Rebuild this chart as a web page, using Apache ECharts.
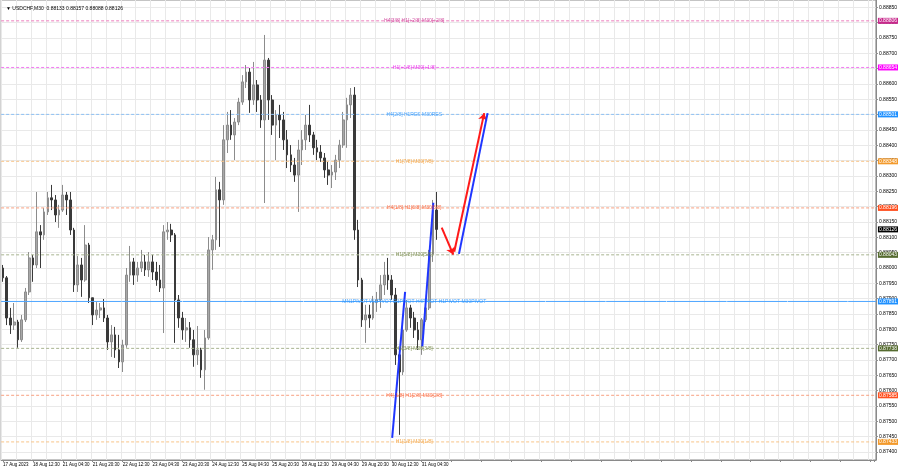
<!DOCTYPE html>
<html>
<head>
<meta charset="utf-8">
<script src="https://cdn.jsdelivr.net/npm/echarts@6/dist/echarts.min.js"></script>
<style>
html,body{margin:0;padding:0;background:#fff;}
#chart{width:900px;height:468px;}
</style>
</head>
<body>
<div id="chart"></div>
<script>
// ---------- DATA (USDCHF, M30, aggregated to 2-hour candles) ----------
const symbolTitle = "USDCHF,M30";
const lastBar = [0.88133, 0.88157, 0.88088, 0.88126];
const timeLabels = ["17 Aug 2023","18 Aug 12:30","21 Aug 04:30","21 Aug 20:30","22 Aug 12:30","23 Aug 04:30","23 Aug 20:30","24 Aug 12:30","25 Aug 04:30","25 Aug 20:30","28 Aug 12:30","29 Aug 04:30","29 Aug 20:30","30 Aug 12:30","31 Aug 04:30"];
const priceTicks = [0.87400,0.87450,0.87500,0.87550,0.87600,0.87650,0.87700,0.87750,0.87800,0.87850,0.87900,0.87950,0.88000,0.88050,0.88100,0.88150,0.88200,0.88250,0.88300,0.88350,0.88400,0.88450,0.88500,0.88550,0.88600,0.88650,0.88700,0.88750,0.88800,0.88850];

const openP = [0.88000,0.87968,0.87837,0.87814,0.87824,0.87766,0.87831,0.87922,0.88033,0.88010,
0.88118,0.88108,0.88183,0.88229,0.88222,0.88173,0.88189,0.88238,0.88222,0.88124,
0.87945,0.88010,0.87961,0.88075,0.87903,0.87847,0.87863,0.87870,0.87837,0.87759,
0.87782,0.87733,0.87694,0.87749,0.87977,0.88020,0.87977,0.88000,0.88020,0.87994,
0.88020,0.87987,0.87961,0.87935,0.88118,0.88124,0.88108,0.87896,0.87837,0.87798,
0.87805,0.87766,0.87717,0.87733,0.87668,0.87772,0.88059,0.88092,0.88255,0.88222,
0.88418,0.88466,0.88434,0.88476,0.88541,0.88607,0.88639,0.88548,0.88597,0.88548,
0.88483,0.88678,0.88548,0.88466,0.88499,0.88483,0.88418,0.88369,0.88336,0.88303,
0.88385,0.88418,0.88466,0.88434,0.88392,0.88378,0.88359,0.88320,0.88303,0.88313,
0.88352,0.88401,0.88483,0.88532,0.88564,0.88124,0.87961,0.87831,0.87847,0.87837,
0.87889,0.87896,0.87945,0.87977,0.87961,0.87912,0.87717,0.87661,0.87798,0.87870,
0.87837,0.87798,0.87766,0.87831,0.87870,0.88043,0.88189];
const highP = [0.88010,0.87974,0.87870,0.87886,0.87831,0.87847,0.87935,0.88052,0.88043,0.88248,
0.88140,0.88196,0.88248,0.88271,0.88238,0.88206,0.88271,0.88248,0.88248,0.88131,
0.88039,0.88033,0.88140,0.88082,0.87903,0.87889,0.87886,0.87899,0.87847,0.87814,
0.87808,0.87782,0.87766,0.88000,0.88072,0.88033,0.88020,0.88059,0.88043,0.88052,
0.88043,0.88020,0.88010,0.88140,0.88150,0.88144,0.88114,0.87912,0.87857,0.87837,
0.87824,0.87798,0.87811,0.87740,0.87798,0.88101,0.88108,0.88297,0.88281,0.88466,
0.88509,0.88515,0.88489,0.88555,0.88629,0.88662,0.88652,0.88672,0.88613,0.88564,
0.88760,0.88685,0.88564,0.88515,0.88532,0.88509,0.88450,0.88401,0.88359,0.88418,
0.88450,0.88499,0.88532,0.88444,0.88418,0.88401,0.88375,0.88346,0.88336,0.88369,
0.88418,0.88509,0.88555,0.88587,0.88590,0.88157,0.87968,0.87880,0.87880,0.87909,
0.87922,0.87977,0.88020,0.88033,0.87977,0.87935,0.87733,0.87814,0.87896,0.87880,
0.87857,0.87824,0.87837,0.87880,0.88059,0.88222,0.88248];
const lowP = [0.87955,0.87814,0.87785,0.87798,0.87740,0.87759,0.87824,0.87912,0.87955,0.88000,
0.88000,0.88092,0.88173,0.88189,0.88150,0.88131,0.88183,0.88173,0.88108,0.87922,
0.87922,0.87906,0.87955,0.87886,0.87814,0.87831,0.87837,0.87824,0.87733,0.87710,
0.87707,0.87674,0.87661,0.87740,0.87955,0.87945,0.87955,0.87987,0.87974,0.87971,
0.87961,0.87942,0.87922,0.87788,0.88092,0.88085,0.87756,0.87805,0.87766,0.87759,
0.87740,0.87678,0.87684,0.87642,0.87603,0.87766,0.87994,0.88059,0.88069,0.88206,
0.88375,0.88418,0.88352,0.88466,0.88532,0.88587,0.88506,0.88532,0.88509,0.88457,
0.88212,0.88483,0.88434,0.88352,0.88424,0.88385,0.88326,0.88313,0.88281,0.88183,
0.88336,0.88385,0.88411,0.88369,0.88352,0.88346,0.88294,0.88271,0.88261,0.88287,
0.88326,0.88392,0.88392,0.88489,0.88092,0.87938,0.87808,0.87756,0.87805,0.87831,
0.87857,0.87870,0.87912,0.87929,0.87896,0.87684,0.87456,0.87651,0.87792,0.87805,
0.87772,0.87733,0.87717,0.87824,0.87863,0.88020,0.88092];
const closeP = [0.87968,0.87837,0.87814,0.87824,0.87766,0.87831,0.87922,0.88033,0.88010,0.88118,
0.88108,0.88183,0.88229,0.88222,0.88173,0.88189,0.88238,0.88222,0.88124,0.87945,
0.88010,0.87961,0.88075,0.87903,0.87847,0.87863,0.87870,0.87837,0.87759,0.87782,
0.87733,0.87694,0.87749,0.87977,0.88020,0.87977,0.88000,0.88020,0.87994,0.88020,
0.87987,0.87961,0.87935,0.88118,0.88124,0.88108,0.87896,0.87837,0.87798,0.87805,
0.87766,0.87717,0.87733,0.87668,0.87772,0.88059,0.88092,0.88255,0.88222,0.88418,
0.88466,0.88434,0.88476,0.88541,0.88607,0.88639,0.88548,0.88597,0.88548,0.88483,
0.88678,0.88548,0.88466,0.88499,0.88483,0.88418,0.88369,0.88336,0.88303,0.88385,
0.88418,0.88466,0.88434,0.88392,0.88378,0.88359,0.88320,0.88303,0.88313,0.88352,
0.88401,0.88483,0.88532,0.88564,0.88124,0.87961,0.87831,0.87847,0.87837,0.87889,
0.87896,0.87945,0.87977,0.87961,0.87912,0.87717,0.87661,0.87798,0.87870,0.87837,
0.87798,0.87766,0.87831,0.87870,0.88043,0.88189,0.88126];

const levelPrices = [0.88806,0.88654,0.88501,0.88348,0.88196,0.88043,0.87891,0.87738,0.87585,0.87433];
const levelNames = ["H4[3/8] H1[+2/8] M30[+2/8]","H1[+1/8] M30[+1/8]","H4[2/8] H1RES M30RES","H1[7/8] M30[7/8]","H4[1/8] H1[6/8] M30[6/8]","H1[5/8] M30[5/8]","MN1PIVOT W1PIVOT D1PIVOT H4PIVOT H1PIVOT M30PIVOT","H1[3/8] M30[3/8]","H4[-1/8] H1[2/8] M30[2/8]","H1[1/8] M30[1/8]"];
const currentPrice = 0.88126;

// hand-drawn trend lines (x in 2-hour slots, y in price)
const blueLine1 = [[104.1,0.87446],[107.56,0.87922]];
const blueLine2 = [[112.17,0.87744],[115.11,0.88213]];
const blueLine3 = [[121.97,0.88046],[129.62,0.88505]];
const redArrow1 = [[117.35,0.88132],[120.45,0.88044]];
const redArrow2 = [[120.71,0.88053],[128.72,0.88505]];

// ---------- STYLE ----------
const FONT = "'Liberation Sans', Arial, sans-serif";
const TOTAL_SLOTS = 234;
const SLOTS_PER_LABEL = 8;
const LABEL_SLOT = 110;
const X_MIN = -0.5, X_MAX = TOTAL_SLOTS - 0.5;
const yMin = 0.87374, yMax = 0.88874;
const boxColors  = ['#c8288c','#ff00ff','#1e90ff','#f39a2c','#ff5020','#556b2f','#1e90ff','#556b2f','#ff5020','#f39a2c'];
const textColors = ['#c8288c','#e81ee8','#1e90ff','#f39a2c','#ff5020','#6b7f3a','#1e90ff','#6b7f3a','#ff5020','#f39a2c'];
const lineColors = ['#ec7cbc','#f27af2','#8cc0f4','#f8c488','#f8a080','#a8b490','#4ea6ff','#a8b490','#f8a080','#f8c488'];
const lineDash = [[3,2],[3,2],[3,2],[3,2],[3,2],[3,2],[60,0.5],[3,2],[3,2],[3,2]];

const categories = Array.from({length: TOTAL_SLOTS}, (_, i) =>
  (i % SLOTS_PER_LABEL === 0 && timeLabels[i / SLOTS_PER_LABEL]) ? timeLabels[i / SLOTS_PER_LABEL] : '');
const candleData = openP.map((o, i) => [o, closeP[i], lowP[i], highP[i]]);

const boxLabel = (text, bg) => ({
  show: true, distance: 2, formatter: () => text,
  backgroundColor: bg, color: '#fff', fontSize: 5, fontFamily: FONT, padding: [1, 1, 0, 1]
});
const hLine = (p, lineStyle, label, z) => ({
  type: 'line', xAxisIndex: 1, yAxisIndex: 0, data: [[X_MIN, p], [X_MAX, p]],
  symbol: 'none', silent: true, clip: false, animation: false, z: z,
  lineStyle: lineStyle, endLabel: label
});
const levelSeries = levelPrices.map((p, i) => hLine(p,
  {color: lineColors[i], width: 1, type: lineDash[i]},
  boxLabel(p.toFixed(5), boxColors[i]), 4));
levelSeries.push(hLine(currentPrice, {color: 'rgba(0,0,0,0)', width: 1},
  boxLabel(currentPrice.toFixed(5), '#000'), 5));

const levelTextData = levelPrices.map((p, i) => ({
  value: [LABEL_SLOT, p],
  label: {color: textColors[i]}
}));

const trendSeries = (pts, color, extra) => Object.assign({
  type: 'line', xAxisIndex: 1, yAxisIndex: 0, data: pts, symbol: 'none', silent: true,
  lineStyle: {color: color, width: 2}, z: 10, animation: false
}, extra || {});

const chart = echarts.init(document.getElementById('chart'), null, {renderer: 'canvas'});
chart.setOption({
  animation: false,
  backgroundColor: '#fff',
  title: {
    text: '\u25BC ' + symbolTitle + '  ' + lastBar.map(v => v.toFixed(5)).join(' '),
    left: 1, top: 1,
    textStyle: {fontSize: 5, fontWeight: 'normal', color: '#000', fontFamily: FONT}
  },
  grid: {left: 0, top: 0, right: 23, bottom: 8, show: true, borderColor: '#8a8a8a', borderWidth: 1, containLabel: false},
  xAxis: [{
    type: 'category', data: categories, boundaryGap: true,
    axisLine: {show: true, onZero: false, lineStyle: {color: '#8a8a8a'}},
    axisTick: {show: true, interval: SLOTS_PER_LABEL - 1, alignWithLabel: true, length: 2, lineStyle: {color: '#8a8a8a'}},
    axisLabel: {interval: 0, fontSize: 4.5, fontFamily: FONT, color: '#000', align: 'left', margin: 2},
    splitLine: {show: true, interval: 3, lineStyle: {color: '#e9e9e9', width: 1}}
  }, {
    type: 'value', min: X_MIN, max: X_MAX, show: false,
    axisLine: {show: false, onZero: false}, splitLine: {show: false}
  }],
  yAxis: [{
    type: 'value', position: 'right', min: yMin, max: yMax, scale: true,
    axisLine: {show: true, onZero: false, lineStyle: {color: '#8a8a8a'}},
    axisTick: {show: true, length: 2, customValues: priceTicks, lineStyle: {color: '#8a8a8a'}},
    axisLabel: {customValues: priceTicks, formatter: v => v.toFixed(5), fontSize: 5, fontFamily: FONT, color: '#000', margin: 3},
    splitLine: {show: true, lineStyle: {color: '#e9e9e9', width: 1}}
  }],
  series: [{
    type: 'candlestick', xAxisIndex: 0, yAxisIndex: 0, data: candleData, barWidth: 2.2, clip: false,
    itemStyle: {color: '#a8a8a8', color0: '#3a3a3a', borderColor: '#8c8c8c', borderColor0: '#3a3a3a', borderWidth: 1},
    z: 2
  }].concat(levelSeries).concat([{
    type: 'scatter', xAxisIndex: 1, yAxisIndex: 0, data: levelTextData, symbolSize: 1, silent: true, clip: false,
    itemStyle: {color: 'rgba(0,0,0,0)'},
    label: {show: true, position: 'inside', formatter: p => levelNames[p.dataIndex], fontSize: 5, fontFamily: FONT},
    z: 11
  },
  trendSeries(blueLine1, '#1f36ff'),
  trendSeries(blueLine2, '#1f36ff'),
  trendSeries(blueLine3, '#1f36ff', {
    markLine: {
      silent: true, animation: false, symbol: ['none', 'arrow'], symbolSize: 7,
      label: {show: false},
      lineStyle: {color: '#ff1a1a', width: 2, type: 'solid'},
      data: [
        [{coord: redArrow1[0]}, {coord: redArrow1[1]}],
        [{coord: redArrow2[0]}, {coord: redArrow2[1]}]
      ]
    }
  })])
});
</script>
</body>
</html>
